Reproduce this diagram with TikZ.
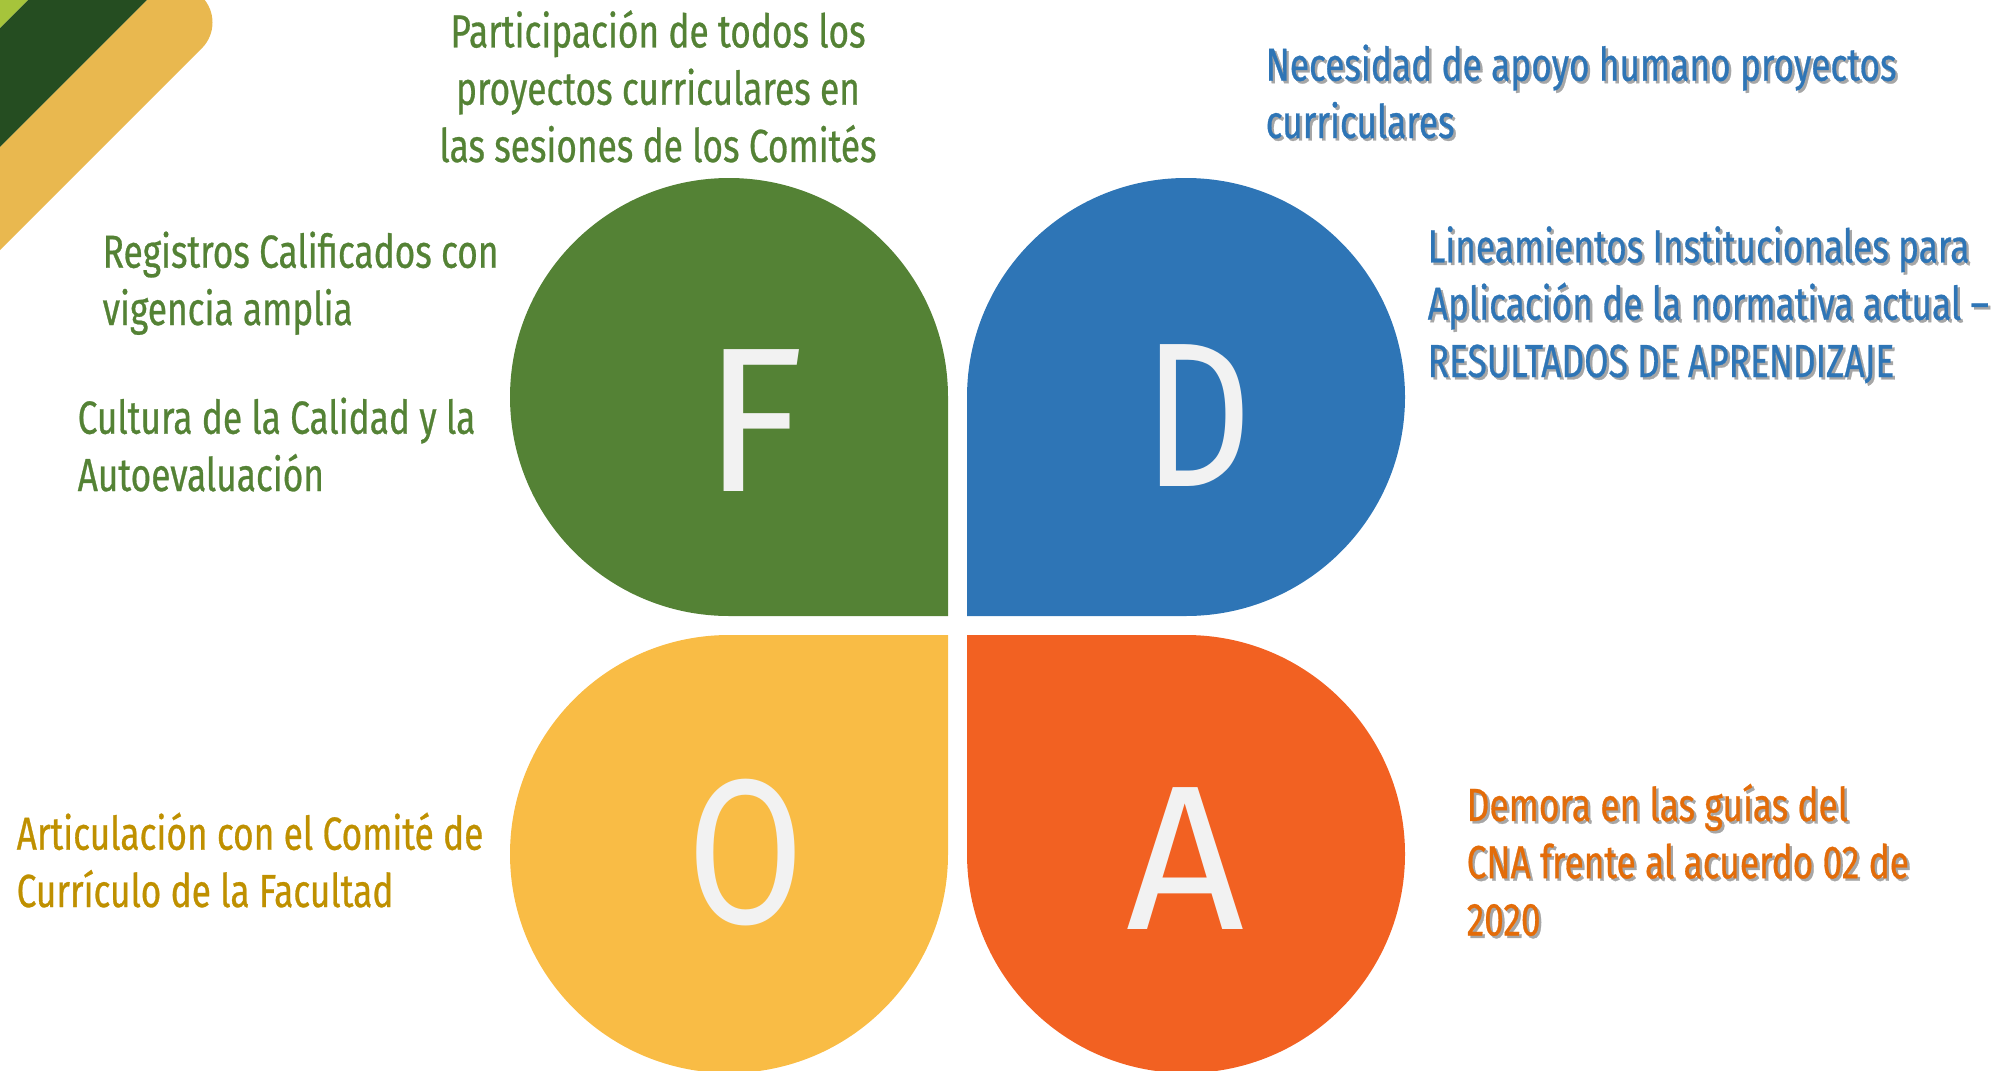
\documentclass[tikz,border=0pt]{standalone}
\usepackage{fontspec}
\setmainfont{Fira Sans}
\newfontfamily\labelfont[FakeStretch=0.76, FakeBold=0.6]{Fira Sans}
\newfontfamily\narrowfont[FakeStretch=0.82]{Fira Sans}
\definecolor{fgreen}{HTML}{548235}
\definecolor{dblue}{HTML}{2E75B6}
\definecolor{oyellow}{HTML}{F9BC45}
\definecolor{aorange}{HTML}{F26122}
\definecolor{ogold}{HTML}{BF9000}
\definecolor{aorangetext}{HTML}{E36C09}
\definecolor{lettergray}{HTML}{F2F2F2}
\definecolor{shgray}{HTML}{A6A6A6}
\definecolor{stripelight}{HTML}{A6C43B}
\definecolor{stripedark}{HTML}{254D21}
\definecolor{stripegold}{HTML}{E9B84F}
\newcommand{\shd}[1]{\makebox[0pt][l]{\hspace{0.7pt}\raisebox{-0.7pt}{\textcolor{shgray}{#1}}}#1}

\begin{document}
\begin{tikzpicture}[letter/.style={text=lettergray, font=\fontsize{58.6}{60}\selectfont, inner sep=0pt, anchor=base},lbl/.style={font=\labelfont\fontsize{13.2}{16.3}\selectfont, inner sep=0pt, anchor=base west, align=left}]
  \useasboundingbox (0,0) rectangle (20.01,10.70);
  \clip (0,0) rectangle (20.01,10.70);

  \draw[stripegold, line width=0.73cm, line cap=round] (-0.5,8.215) -- (1.76,10.475);
  \fill[stripedark] (0.28,10.70) -- (1.47,10.70) -- (0,9.23) -- (0,10.42) -- cycle;
  \fill[stripelight] (0,10.70) -- (0.28,10.70) -- (0,10.42) -- cycle;

  \fill[fgreen] (9.48,4.54) -- (9.48,6.73) arc[start angle=0, end angle=270, radius=2.19] -- cycle;
  \fill[dblue] (9.67,4.54) -- (11.86,4.54) arc[start angle=-90, end angle=180, radius=2.19] -- cycle;
  \fill[oyellow] (9.48,4.35) -- (7.29,4.35) arc[start angle=90, end angle=360, radius=2.19] -- cycle;
  \fill[aorange] (9.67,4.35) -- (9.67,2.16) arc[start angle=180, end angle=450, radius=2.19] -- cycle;

  \node[letter] (F) at (7.545,5.79) {F};
  \node[letter, font=\narrowfont\fontsize{58.6}{60}\selectfont] (D) at (11.98,5.84) {D};
  \node[letter, font=\narrowfont\fontsize{58.6}{60}\selectfont] (O) at (7.455,1.47) {O};
  \node[letter] (A) at (11.85,1.41) {A};

  \node[lbl, text=fgreen, anchor=base, align=center] (particip) at (6.58,9.08) {Participación de todos los\\proyectos curriculares en\\las sesiones de los Comités};
  \node[lbl, text=fgreen] (registros) at (1.02,7.45) {Registros Calificados con\\vigencia amplia};
  \node[lbl, text=fgreen] (cultura) at (0.77,5.79) {Cultura de la Calidad y la\\Autoevaluación};
  \node[lbl, text=dblue] (necesidad) at (12.65,9.32) {\shd{Necesidad de apoyo humano proyectos}\\\shd{curriculares}};
  \node[lbl, text=dblue] (lineam) at (14.27,6.93) {\shd{Lineamientos Institucionales para}\\\shd{Aplicación de la normativa actual –}\\\shd{RESULTADOS DE APRENDIZAJE}};
  \node[lbl, text=ogold] (articul) at (0.16,1.63) {Articulación con el Comité de\\Currículo de la Facultad};
  \node[lbl, text=aorangetext] (demora) at (14.66,1.345) {\shd{Demora en las guías del}\\\shd{CNA frente al acuerdo 02 de}\\\shd{2020}};
\end{tikzpicture}
\end{document}
